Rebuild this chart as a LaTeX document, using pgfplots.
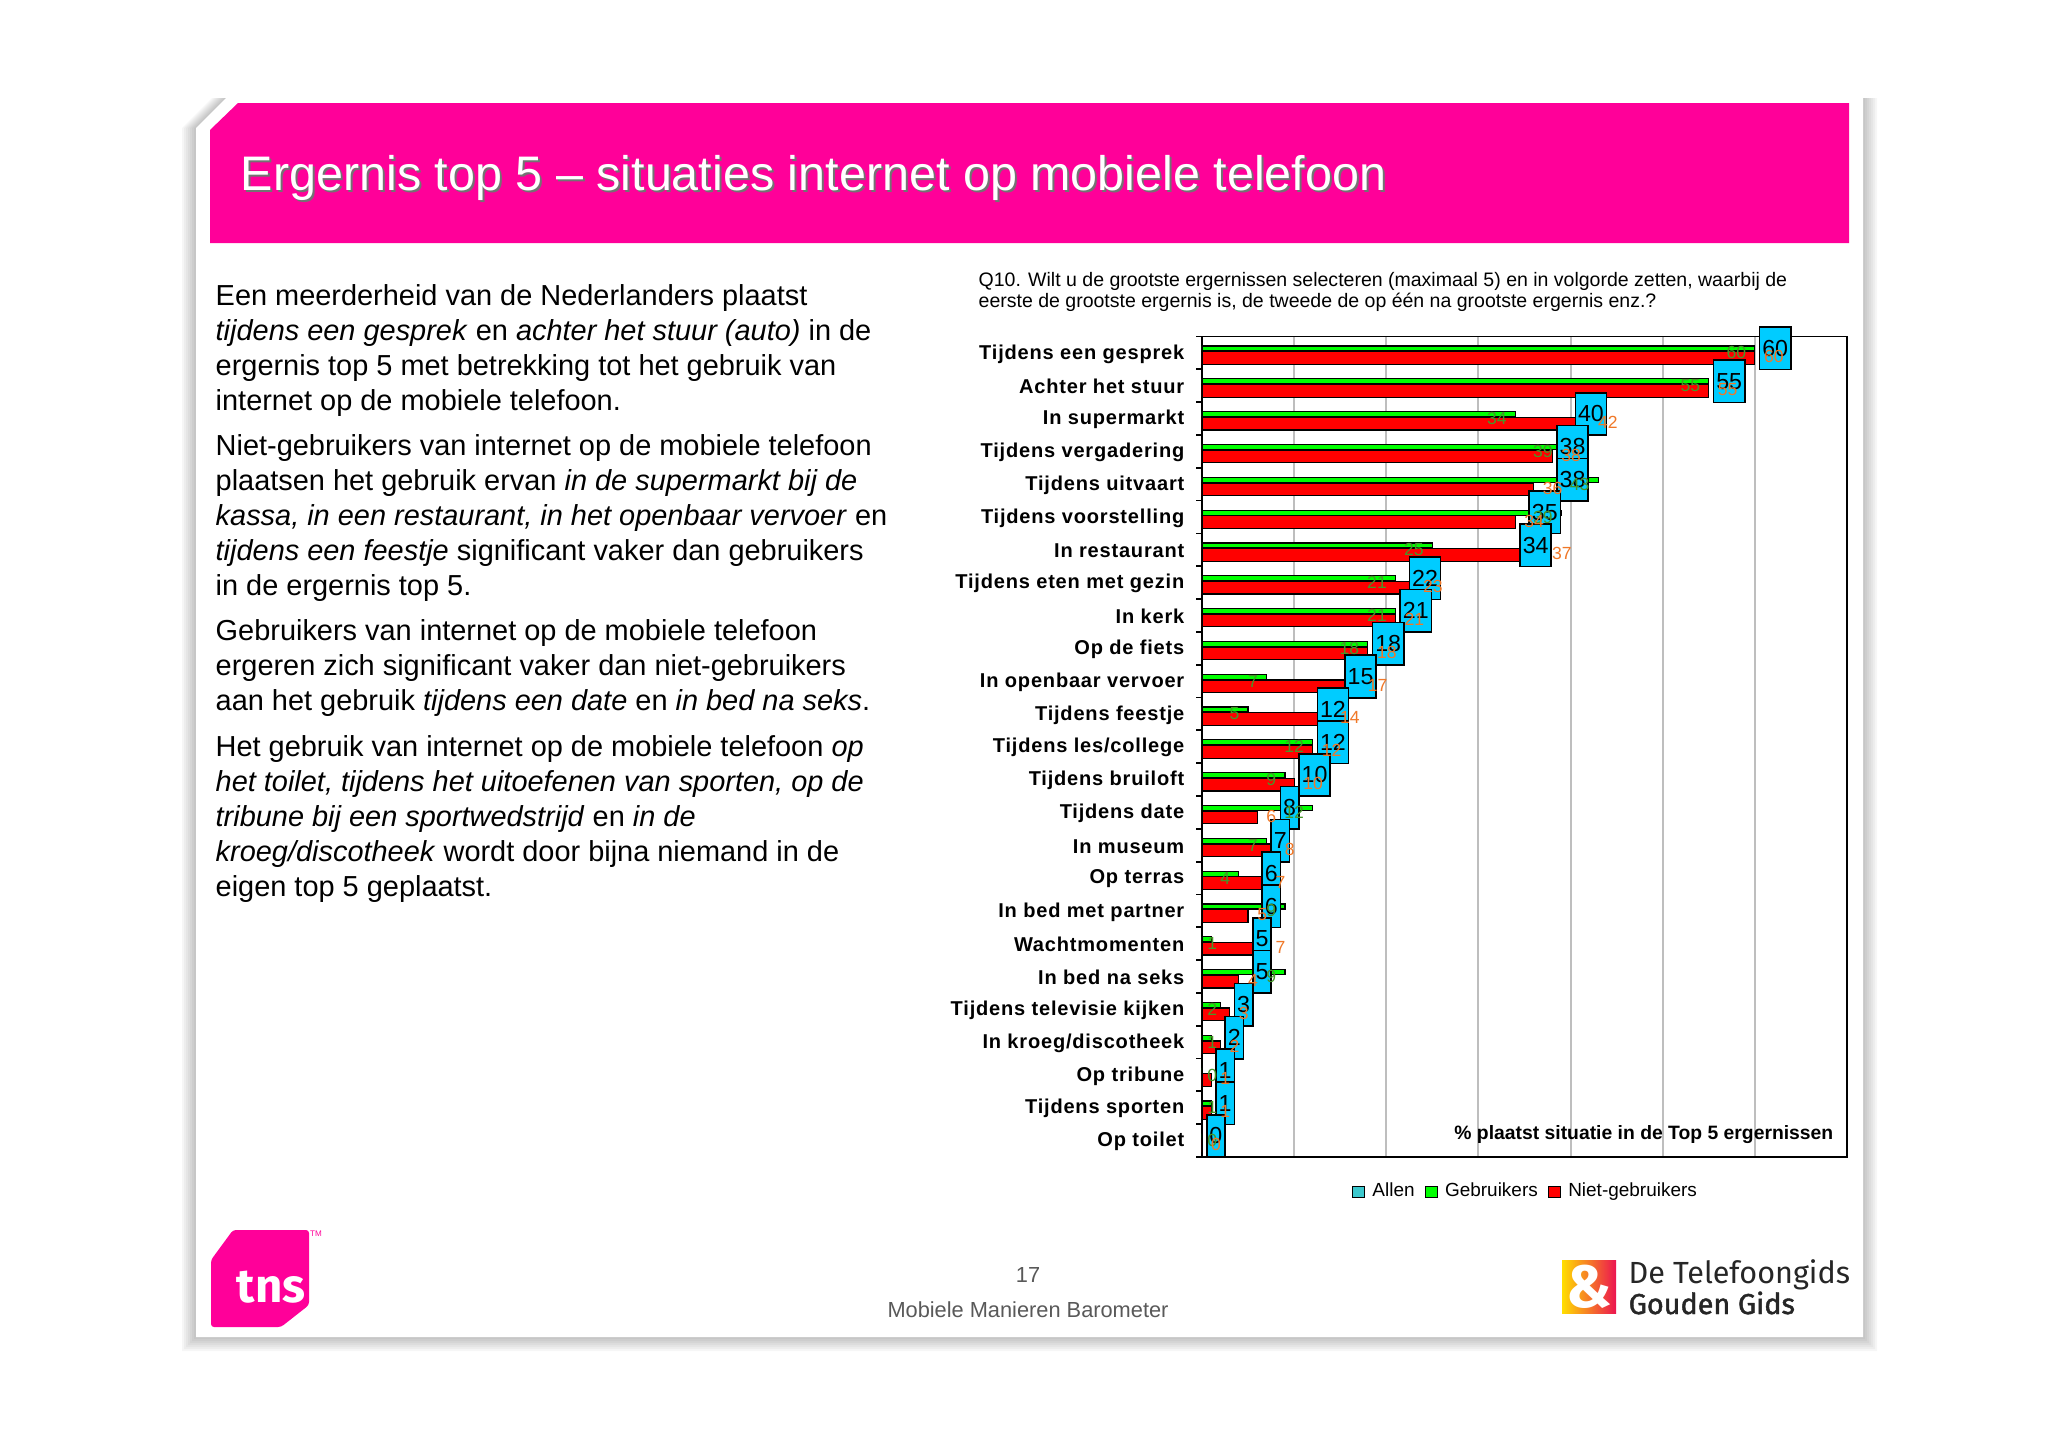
\documentclass[border=0pt]{standalone}
\usepackage{fontspec}
\setmainfont{Liberation Sans}
\newfontfamily\catfam{Liberation Sans}[LetterSpace=4]
\newfontfamily\fira{Fira Sans}
\newfontfamily\firamed{Fira Sans}[FakeBold=1.5]
\usepackage{pgfplots}
\usepackage{pgfplotstable}
\pgfplotsset{compat=1.18}

\definecolor{tpink}{RGB}{255,0,153}
\definecolor{allen}{RGB}{0,204,255}
\definecolor{allenleg}{RGB}{60,200,205}
\definecolor{gbar}{RGB}{0,255,0}
\definecolor{nbar}{RGB}{255,0,0}
\definecolor{glab}{RGB}{70,150,40}
\definecolor{nlab}{RGB}{240,120,40}
\definecolor{gridg}{RGB}{190,190,190}
\definecolor{tyellow}{RGB}{255,222,0}
\definecolor{tred}{RGB}{236,20,80}

\pgfplotstableread{
idx A G N
0 60 60 60
1 55 55 55
2 40 34 42
3 38 39 38
4 38 43 36
5 35 39 34
6 34 25 37
7 22 21 23
8 21 21 21
9 18 18 18
10 15 7 17
11 12 5 14
12 12 12 12
13 10 9 10
14 8 12 6
15 7 7 8
16 6 4 7
17 6 9 5
18 5 1 7
19 5 9 4
20 3 2 3
21 2 1 2
22 1 0 1
23 1 1 1
24 0 0 0
}\datatable

\begin{document}
\begin{tikzpicture}
\begin{scope}[x=0.1mm,y=-0.1mm]
\path (0,0) rectangle (2048,1447);
% card shadow
\foreach \k in {2,4,...,14} {
  \fill[black,opacity=0.035] (196-\k,128) -- (226-\k,98) -- (1863+\k,98) -- (1863+\k,1337+\k) -- (196-\k,1337+\k) -- cycle;
}
\fill[white] (196,128) -- (226,98) -- (1863,98) -- (1863,1337) -- (196,1337) -- cycle;
% header
\fill[tpink] (210,130) -- (238,103) -- (1849,103) -- (1849,243) -- (210,243) -- cycle;
\node[anchor=base west, inner sep=0, text=black!55, font=\fontsize{13.8}{14}\selectfont] at (242,192) {Ergernis top 5 -- situaties internet op mobiele telefoon};
\node[anchor=base west, inner sep=0, text=white, font=\fontsize{13.8}{14}\selectfont] at (240,190) {Ergernis top 5 -- situaties internet op mobiele telefoon};
% left text
\node[anchor=base west, inner sep=0] at (215,305) {\parbox[t]{90mm}{\fontsize{8.23}{9.97}\selectfont\setlength{\parskip}{2.9pt}\setlength{\parindent}{0pt}\raggedright
Een meerderheid van de Nederlanders plaatst\\
\textit{tijdens een gesprek} en \textit{achter het stuur (auto)} in de\\
ergernis top 5 met betrekking tot het gebruik van\\
internet op de mobiele telefoon.\par
Niet-gebruikers van internet op de mobiele telefoon\\
plaatsen het gebruik ervan \textit{in de supermarkt bij de}\\
\textit{kassa, in een restaurant, in het openbaar vervoer} en\\
\textit{tijdens een feestje} significant vaker dan gebruikers\\
in de ergernis top 5.\par
Gebruikers van internet op de mobiele telefoon\\
ergeren zich significant vaker dan niet-gebruikers\\
aan het gebruik \textit{tijdens een date} en \textit{in bed na seks}.\par
Het gebruik van internet op de mobiele telefoon \textit{op}\\
\textit{het toilet, tijdens het uitoefenen van sporten, op de}\\
\textit{tribune bij een sportwedstrijd} en \textit{in de}\\
\textit{kroeg/discotheek} wordt door bijna niemand in de\\
eigen top 5 geplaatst.\par}};
% question
\node[anchor=base west, inner sep=0] at (978,286) {\parbox[t]{95mm}{\fontsize{5.55}{6.1}\selectfont\raggedright
Q10. Wilt u de grootste ergernissen selecteren (maximaal 5) en in volgorde zetten, waarbij de\\
eerste de grootste ergernis is, de tweede de op één na grootste ergernis enz.?}};
% footer
\node[inner sep=0, text=black!65, font=\fontsize{6.2}{7}\selectfont] at (1028,1275) {17};
\node[inner sep=0, text=black!65, font=\fontsize{6.2}{7}\selectfont] at (1028,1310) {Mobiele Manieren Barometer};
% tns logo
\fill[tpink, rounded corners=0.3mm] (211,1260) -- (233,1230) -- (309,1230) -- (309,1305) -- (281,1327) -- (211,1327) -- cycle;
\node[anchor=base west, inner sep=0, text=white, font=\fira\bfseries\fontsize{13.5}{14}\selectfont] at (236,1302) {tns};
\node[inner sep=0, text=tpink, font=\fontsize{2.3}{3}\selectfont] at (316,1234) {TM};
% telefoongids logo
\shade[left color=tyellow, right color=tred] (1562,1260) rectangle (1616,1313);
\node[inner sep=0, text=white, font=\fira\bfseries\fontsize{17}{17}\selectfont] at (1589,1287) {\&};
\node[anchor=base west, inner sep=0, text=black!85, font=\fira\fontsize{8.7}{9}\selectfont] at (1628,1283) {De Telefoongids};
\node[anchor=base west, inner sep=0, text=black!85, font=\firamed\fontsize{8.2}{9}\selectfont] at (1628,1314) {Gouden Gids};
\end{scope}

\begin{axis}[
  at={(120.2mm,-33.65mm)}, anchor=north west,
  scale only axis, width=64.5mm, height=82.05mm,
  xmin=0, xmax=70, ymin=-0.5, ymax=24.5, y dir=reverse,
  axis line style={line width=0.55pt},
  xtick={10,20,...,60}, xticklabels={}, xmajorgrids,
  grid style={gridg, line width=0.6pt},
  ytick={0,...,24},
  yticklabels={Tijdens een gesprek, Achter het stuur, In supermarkt, Tijdens vergadering, Tijdens uitvaart, Tijdens voorstelling, In restaurant, Tijdens eten met gezin, In kerk, Op de fiets, In openbaar vervoer, Tijdens feestje, Tijdens les/college, Tijdens bruiloft, Tijdens date, In museum, Op terras, In bed met partner, Wachtmomenten, In bed na seks, Tijdens televisie kijken, In kroeg/discotheek, Op tribune, Tijdens sporten, Op toilet},
  minor ytick={-0.5,0.5,...,24.5},
  major tick length=0pt, minor tick length=0.55mm, tick align=outside,
  ytick pos=left, xtick pos=bottom,
  minor tick style={line width=0.5pt, black},
  yticklabel style={font=\catfam\bfseries\fontsize{5.7}{6}\selectfont, inner sep=0pt, xshift=-1.7mm, yshift=-0.1mm},
  /pgf/number format/assume math mode=true,
  legend image code/.code={\draw[#1, line width=0.4pt] (0mm,-0.55mm) rectangle (1.2mm,0.55mm);},
  legend style={at={(0.5,-0.043)}, anchor=center, draw=none, fill=none, legend columns=-1,
    font=\fontsize{5.4}{6}\selectfont, nodes={inner sep=0pt},
    /tikz/every odd column/.style={column sep=0.7mm},
    /tikz/every even column/.style={column sep=1.0mm}},
]
\addplot[xbar, bar width=0.152, bar shift=0pt, fill=gbar, draw=black, line width=0.35pt, forget plot]
  table[x=G, y expr=\thisrow{idx}-0.134] {\datatable};
\addplot[xbar, bar width=0.384, bar shift=0pt, fill=nbar, draw=black, line width=0.35pt, forget plot]
  table[x=N, y expr=\thisrow{idx}+0.155] {\datatable};
\addplot[xbar, bar width=0.1, bar shift=0pt, draw=none, fill=none, forget plot,
  nodes near coords, point meta=explicit,
  nodes near coords style={anchor=west, xshift=0.4mm, fill=allen, draw=black, line width=0.45pt,
    inner xsep=0.27mm, inner ysep=0pt, minimum height=4.25mm, font=\fontsize{6.6}{7}\selectfont, text=black}]
  table[x=A, y expr=\thisrow{idx}-0.14, meta=A] {\datatable};
\addplot[xbar, bar width=0.1, bar shift=0pt, draw=none, fill=none, forget plot,
  nodes near coords, point meta=explicit,
  nodes near coords style={anchor=east, xshift=-0.8mm, inner sep=0pt, font=\fontsize{5}{5}\selectfont, text=glab}]
  table[x expr={max(\thisrow{G},2.6)}, y expr=\thisrow{idx}, meta=G] {\datatable};
\addplot[xbar, bar width=0.1, bar shift=0pt, draw=none, fill=none, forget plot,
  nodes near coords, point meta=explicit,
  nodes near coords style={anchor=west, xshift=0.85mm, inner sep=0pt, font=\fontsize{5}{5}\selectfont, text=nlab}]
  table[x=N, y expr=\thisrow{idx}+0.12, meta=N] {\datatable};
\addlegendimage{fill=allenleg, draw=black}
\addlegendentry{Allen}
\addlegendimage{fill=gbar, draw=black}
\addlegendentry{Gebruikers}
\addlegendimage{fill=nbar, draw=black}
\addlegendentry{Niet-gebruikers}
\node[anchor=base east, inner sep=0, font=\bfseries\fontsize{5.5}{6}\selectfont, xshift=-1.3mm, yshift=1.8mm] at (axis description cs:1,0) {\% plaatst situatie in de Top 5 ergernissen};
\end{axis}
\end{tikzpicture}
\end{document}
